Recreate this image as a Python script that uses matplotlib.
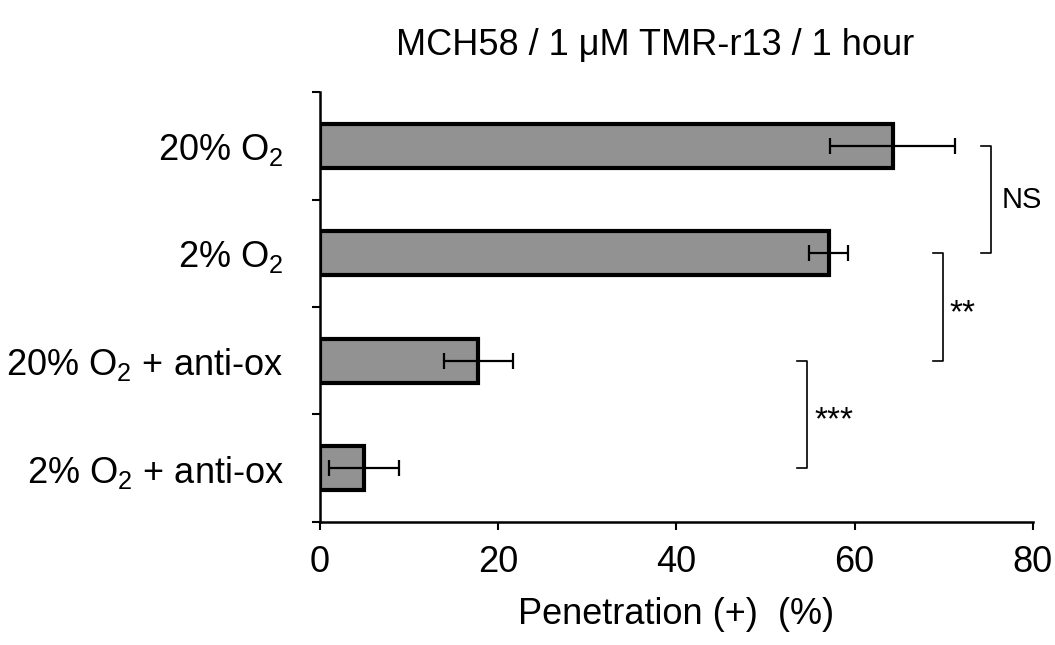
import numpy as np
import matplotlib
matplotlib.use('Agg')
import matplotlib.pyplot as plt

plt.rcParams['font.family'] = ['Liberation Sans', 'DejaVu Sans']
plt.rcParams['mathtext.fontset'] = 'custom'
plt.rcParams['mathtext.rm'] = 'Liberation Sans'
plt.rcParams['mathtext.it'] = 'Liberation Sans:italic'

# data, top to bottom
labels = ['20% O$_2$', '2% O$_2$', '20% O$_2$ + anti-ox', '2% O$_2$ + anti-ox']
values = [64.3, 57.1, 17.8, 5.0]
errors = [7.0, 2.2, 3.9, 3.9]

# significance brackets: (upper bar index, lower bar index, x position, text)
brackets = [(0, 1, 75.3, 'NS'), (1, 2, 69.9, '**'), (2, 3, 54.7, '***')]

fig = plt.figure(figsize=(10.55, 6.45), dpi=100)
ax = fig.add_axes([0.303, 0.191, 0.676, 0.666])

ypos = np.arange(len(labels))[::-1] + 0.5
ax.barh(ypos, values, height=0.41, color='#929292', edgecolor='black', linewidth=3, zorder=2)
ax.errorbar(values, ypos, xerr=errors, fmt='none', ecolor='black', elinewidth=1.6,
            capsize=5.5, capthick=1.6, zorder=3)

for top, bot, x, txt in brackets:
    y1, y2 = ypos[top], ypos[bot]
    ax.plot([x - 1.1, x, x, x - 1.1], [y1, y1, y2, y2], color='black', lw=1.2,
            clip_on=False, zorder=3)
    mid = (y1 + y2) / 2
    if txt == 'NS':
        ax.text(x + 1.2, mid, txt, fontsize=21, ha='left', va='center', clip_on=False)
    else:
        ax.text(x + 0.8, mid - 0.06, txt, fontsize=24, ha='left', va='center', clip_on=False)

ax.set_xlim(0, 80)
ax.set_ylim(0, 4)
ax.set_xticks([0, 20, 40, 60, 80])
ax.set_yticks(ypos)
ax.set_yticklabels(labels)
ax.set_yticks(np.arange(0, 5), minor=True)
ax.tick_params(axis='y', which='major', length=0, pad=26, labelsize=26)
ax.tick_params(axis='y', which='minor', length=6, width=1.5)
ax.tick_params(axis='x', length=6, width=1.5, labelsize=26, pad=11)

for s in ['top', 'right']:
    ax.spines[s].set_visible(False)
for s in ['left', 'bottom']:
    ax.spines[s].set_linewidth(1.8)

ax.set_xlabel('Penetration (+)  (%)', fontsize=26, labelpad=12)
fig.text(0.621, 0.93, 'MCH58 / 1 μM TMR-r13 / 1 hour', fontsize=26, ha='center', va='center')

fig.savefig('out.png', dpi=100)
